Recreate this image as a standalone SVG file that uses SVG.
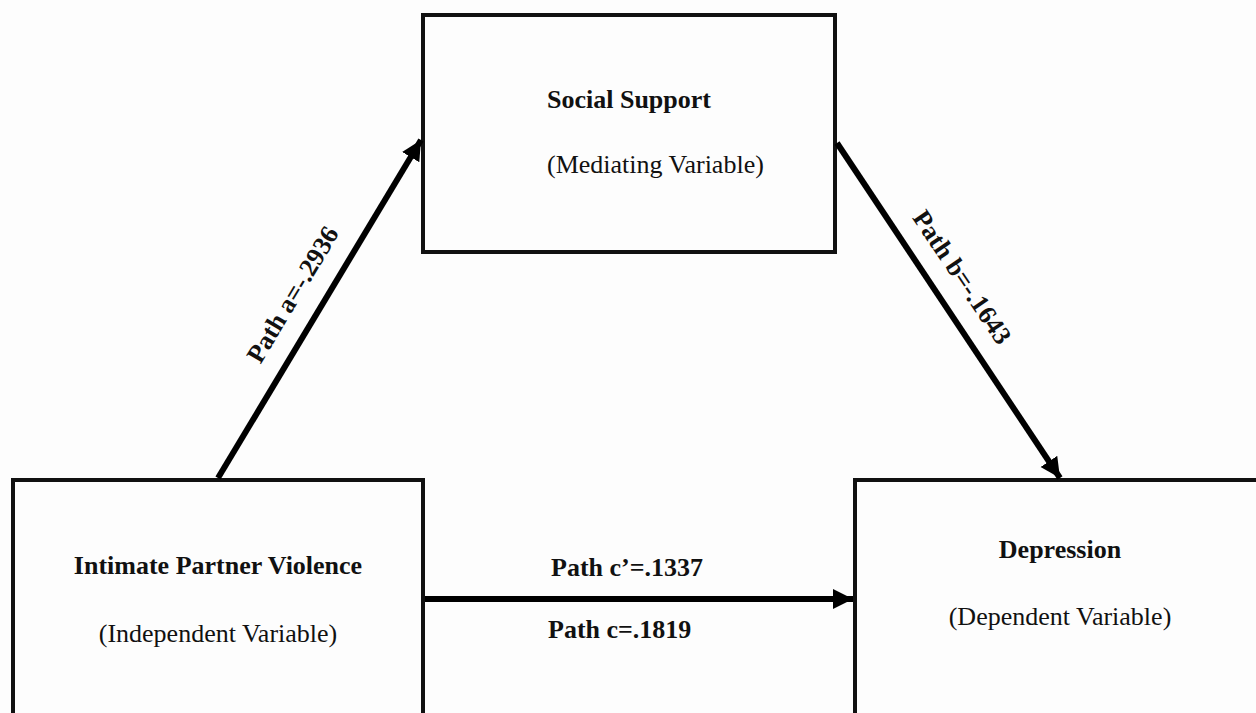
<svg xmlns="http://www.w3.org/2000/svg" width="1256" height="713" viewBox="0 0 1256 713">
<style>
.box{fill:#fdfdfd;stroke:#111;stroke-width:4}
.conn{stroke:#000;stroke-width:6;fill:none}
.t{font-family:"Liberation Serif","Times New Roman",serif;font-size:26px;fill:#111}
.b{font-weight:bold}
.c{text-anchor:middle}
</style>
<defs>
<marker id="ah" markerUnits="userSpaceOnUse" markerWidth="22" markerHeight="22" refX="20" refY="10" orient="auto">
<path d="M0,0 L20,10 L0,20 Z" fill="#000"/>
</marker>
</defs>
<rect width="1256" height="713" fill="#fdfdfd"/>
<g id="node-social-support">
<rect class="box" x="423" y="15" width="412" height="237"/>
<text class="t b" x="547" y="108">Social Support</text>
<text class="t" x="547" y="173">(Mediating Variable)</text>
</g>
<g id="node-ipv">
<rect class="box" x="13" y="480" width="410" height="260"/>
<text class="t b c" x="218" y="574">Intimate Partner Violence</text>
<text class="t c" x="218" y="642">(Independent Variable)</text>
</g>
<g id="node-depression">
<rect class="box" x="855" y="480" width="420" height="260"/>
<text class="t b c" x="1060" y="558">Depression</text>
<text class="t c" x="1060" y="625">(Dependent Variable)</text>
</g>
<g id="connectors">
<line class="conn" x1="218" y1="478" x2="421" y2="140" marker-end="url(#ah)"/>
<line class="conn" x1="837" y1="143" x2="1060" y2="478" marker-end="url(#ah)"/>
<line class="conn" x1="425" y1="599" x2="853" y2="599" marker-end="url(#ah)"/>
<text class="t b c" transform="translate(300,299) rotate(-59)">Path a=-.2936</text>
<text class="t b c" transform="translate(955,282) rotate(56)">Path b=-.1643</text>
<text class="t b" x="551" y="576">Path c’=.1337</text>
<text class="t b" x="548" y="638">Path c=.1819</text>
</g>
</svg>
